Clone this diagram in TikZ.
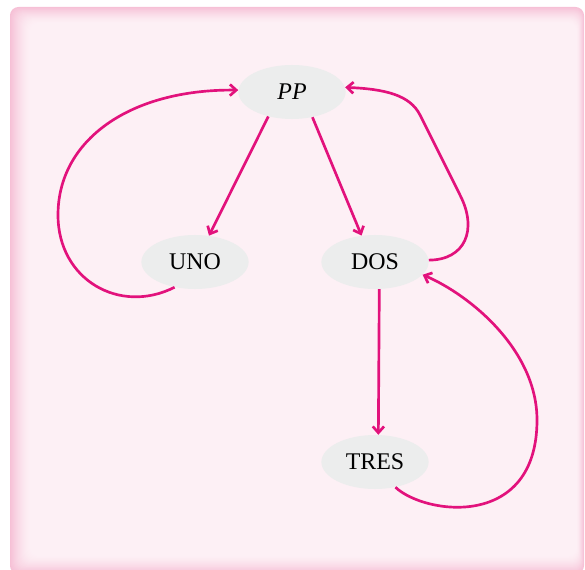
\documentclass[tikz,border=0pt]{standalone}
\usepackage{fontspec}
\setmainfont{Liberation Serif}
\usetikzlibrary{arrows.meta,shapes.geometric}

\definecolor{edgepink}{HTML}{F6C0D6}
\definecolor{panelpink}{HTML}{FDF0F5}
\definecolor{linkpink}{HTML}{E2127C}
\definecolor{nodegray}{HTML}{ECEDED}

\begin{document}
\begin{tikzpicture}[
  x=0.025cm,y=-0.025cm,
  state/.style={ellipse,fill=nodegray,minimum width=2.68cm,minimum height=1.35cm,inner sep=0pt,
    font=\fontsize{17}{20}\selectfont},
  link/.style={-{Straight Barb[length=4.5pt,width=8pt]},draw=linkpink,line width=1.9pt}
]
\useasboundingbox (0,0) rectangle (585,570);
% panel with a soft rim
\foreach \i in {0,...,20}{
  \pgfmathsetmacro{\mix}{100-(1-\i/20)^1.5*100}
  \fill[panelpink!\mix!edgepink,rounded corners=6] (10+\i,7+0.8*\i) rectangle (584-0.35*\i,574-0.9*\i);
}

\node[state] (pp)   at (292,92)  {\itshape PP};
\node[state] (uno)  at (195,262) {UNO};
\node[state] (dos)  at (375,262) {DOS};
\node[state] (tres) at (375,462) {TRES};

\draw[link] (pp.-134) -- (uno.62);
\draw[link] (pp.-51) -- (dos.117);
\draw[link] (dos.-81) -- (tres.83);
% loops back up
\draw[link] (uno.-129) .. controls (120,315) and (58,280) .. (58,215)
  .. controls (58,140) and (130,89) .. (pp.178);
\draw[link] (dos.2) .. controls (465,260) and (478,230) .. (460,195)
  -- (420,115) .. controls (410,95) and (385,89) .. (pp.5);
\draw[link] (tres.-51) .. controls (425,515) and (537,530) .. (537,420)
  .. controls (537,350) and (470,295) .. (dos.-15);
\end{tikzpicture}
\end{document}
